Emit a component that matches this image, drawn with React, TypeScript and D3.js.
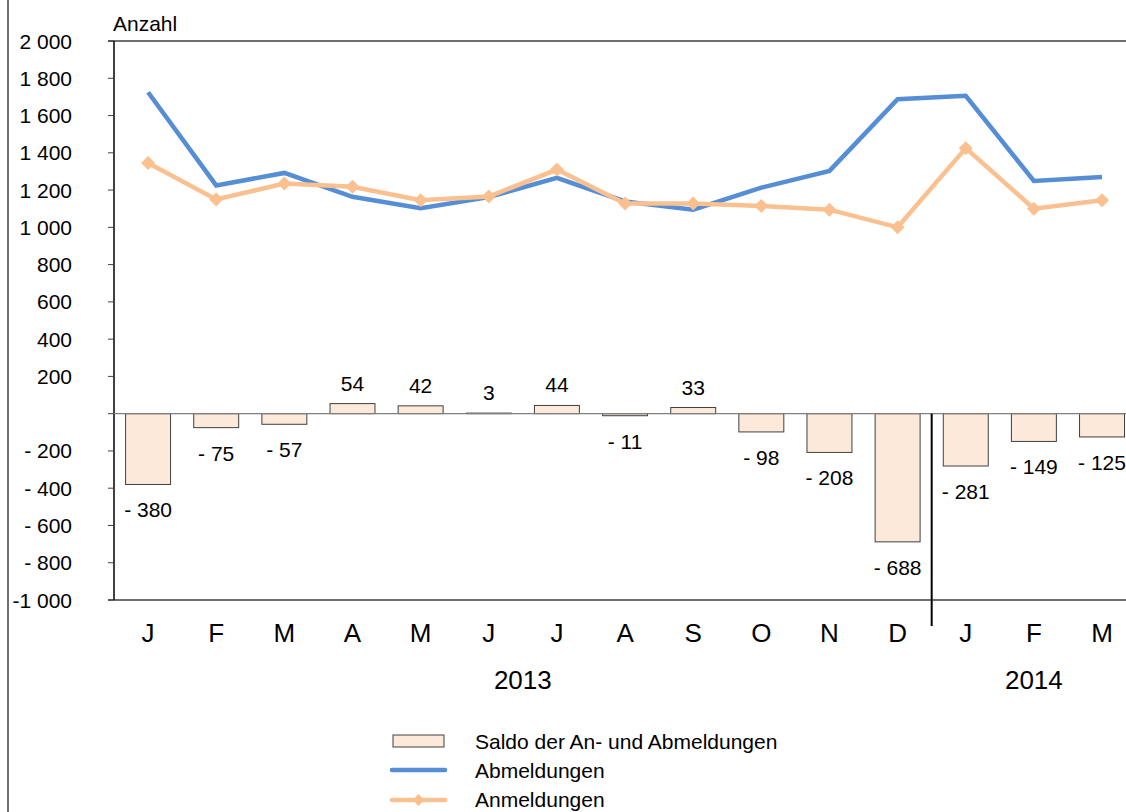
import React from 'react';
import * as d3 from 'd3';

// Monthly values, Jan 2013 - Mar 2014
const months = ['J', 'F', 'M', 'A', 'M', 'J', 'J', 'A', 'S', 'O', 'N', 'D', 'J', 'F', 'M'];
const saldo = [-380, -75, -57, 54, 42, 3, 44, -11, 33, -98, -208, -688, -281, -149, -125];
const abmeldungen = [1725, 1225, 1292, 1164, 1103, 1162, 1266, 1139, 1095, 1213, 1303, 1688, 1706, 1249, 1270];
const anmeldungen = [1345, 1150, 1235, 1218, 1145, 1165, 1310, 1128, 1128, 1115, 1095, 1000, 1425, 1100, 1145];
const yTicks = [2000, 1800, 1600, 1400, 1200, 1000, 800, 600, 400, 200, 0, -200, -400, -600, -800, -1000];
const yTickLabels = ['2 000', '1 800', '1 600', '1 400', '1 200', '1 000', '800', '600', '400', '200', '', '- 200', '- 400', '- 600', '- 800', '-1 000'];
const years = [
  { label: '2013', from: 0, to: 11 },
  { label: '2014', from: 12, to: 14 },
];

const W = 1126;
const H = 812;
const left = 114;
const bandW = 68.14;
const font = 'Liberation Sans, Arial, sans-serif';
const blue = '#558ed5';
const orange = '#fac08f';
const barFill = '#fde9d9';
const fs = 21;
const fsBig = 26;

const fmt = (v: number) => (v < 0 ? '- ' + Math.abs(v) : String(v));

const App = () => {
  const idx = d3.range(months.length);
  const x = d3.scaleBand<number>()
    .domain(idx)
    .range([left, left + bandW * months.length])
    .paddingInner(0.34)
    .paddingOuter(0.17);
  const cx = (i: number) => (x(i) as number) + x.bandwidth() / 2;
  const y = d3.scaleLinear().domain([-1000, 2000]).range([600, 41]);

  const line = d3.line<number>()
    .x((_, i) => cx(i))
    .y((d) => y(d));

  const diamond = (px: number, py: number, r = 7) =>
    `M${px},${py - r}L${px + r},${py}L${px},${py + r}L${px - r},${py}Z`;

  const sepX = left + bandW * 12;

  return (
    <svg width={W} height={H} style={{ position: 'absolute', left: 0, top: 0, background: '#fff' }}
      fontFamily={font}>
      {/* outer frame */}
      <line x1={8} x2={8} y1={0} y2={H} stroke="#404040" strokeWidth={1.5} />

      <text x={113} y={31} fontSize={fs} fill="#000">Anzahl</text>

      {/* top and bottom lines */}
      <line x1={108} x2={W} y1={y(2000)} y2={y(2000)} stroke="#404040" strokeWidth={1.5} />
      <line x1={108} x2={W} y1={y(-1000)} y2={y(-1000)} stroke="#404040" strokeWidth={1.5} />

      {/* y axis */}
      <line x1={left} x2={left} y1={y(2000)} y2={y(-1000)} stroke="#000" strokeWidth={1.5} />
      {yTicks.map((t, i) => (
        <g key={t}>
          <line x1={108} x2={left} y1={y(t)} y2={y(t)} stroke="#404040" strokeWidth={1} />
          <text x={72} y={y(t) + 7.5} fontSize={fs} textAnchor="end" fill="#000">{yTickLabels[i]}</text>
        </g>
      ))}

      {/* bars */}
      {saldo.map((v, i) => (
        <rect key={'b' + i} x={x(i)} width={x.bandwidth()}
          y={Math.min(y(v), y(0))} height={Math.abs(y(v) - y(0))}
          fill={barFill} stroke="#404040" strokeWidth={1} />
      ))}
      {/* zero line */}
      <line x1={left} x2={W} y1={y(0)} y2={y(0)} stroke="#808080" strokeWidth={1.2} />

      {/* bar labels */}
      {saldo.map((v, i) => (
        <text key={'l' + i} x={cx(i)} y={v < 0 ? y(v) + 33 : y(v) - 13}
          fontSize={fs} textAnchor="middle" fill="#000">{fmt(v)}</text>
      ))}

      {/* year separator */}
      <line x1={sepX} x2={sepX} y1={y(0)} y2={626} stroke="#000" strokeWidth={2} />

      {/* lines */}
      <path d={line(abmeldungen) || ''} fill="none" stroke={blue} strokeWidth={4.5} />
      <path d={line(anmeldungen) || ''} fill="none" stroke={orange} strokeWidth={4.5} />
      {anmeldungen.map((v, i) => (
        <path key={'d' + i} d={diamond(cx(i), y(v))} fill={orange} />
      ))}

      {/* month labels */}
      {months.map((m, i) => (
        <text key={'m' + i} x={cx(i)} y={642} fontSize={fsBig} textAnchor="middle" fill="#000">{m}</text>
      ))}
      {years.map((yr) => (
        <text key={yr.label} x={(cx(yr.from) + cx(yr.to)) / 2} y={689} fontSize={fsBig}
          textAnchor="middle" fill="#000">{yr.label}</text>
      ))}

      {/* legend */}
      <rect x={393} y={735} width={51} height={12} fill={barFill} stroke="#404040" strokeWidth={1} />
      <text x={475} y={748.5} fontSize={fs} fill="#000">Saldo der An- und Abmeldungen</text>
      <line x1={392} x2={445} y1={770} y2={770} stroke={blue} strokeWidth={4.5} strokeLinecap="round" />
      <text x={475} y={778} fontSize={fs} fill="#000">Abmeldungen</text>
      <line x1={392} x2={445} y1={800} y2={800} stroke={orange} strokeWidth={4.5} strokeLinecap="round" />
      <path d={diamond(418.5, 800, 6)} fill={orange} />
      <text x={475} y={807} fontSize={fs} fill="#000">Anmeldungen</text>
    </svg>
  );
};

export default App;
